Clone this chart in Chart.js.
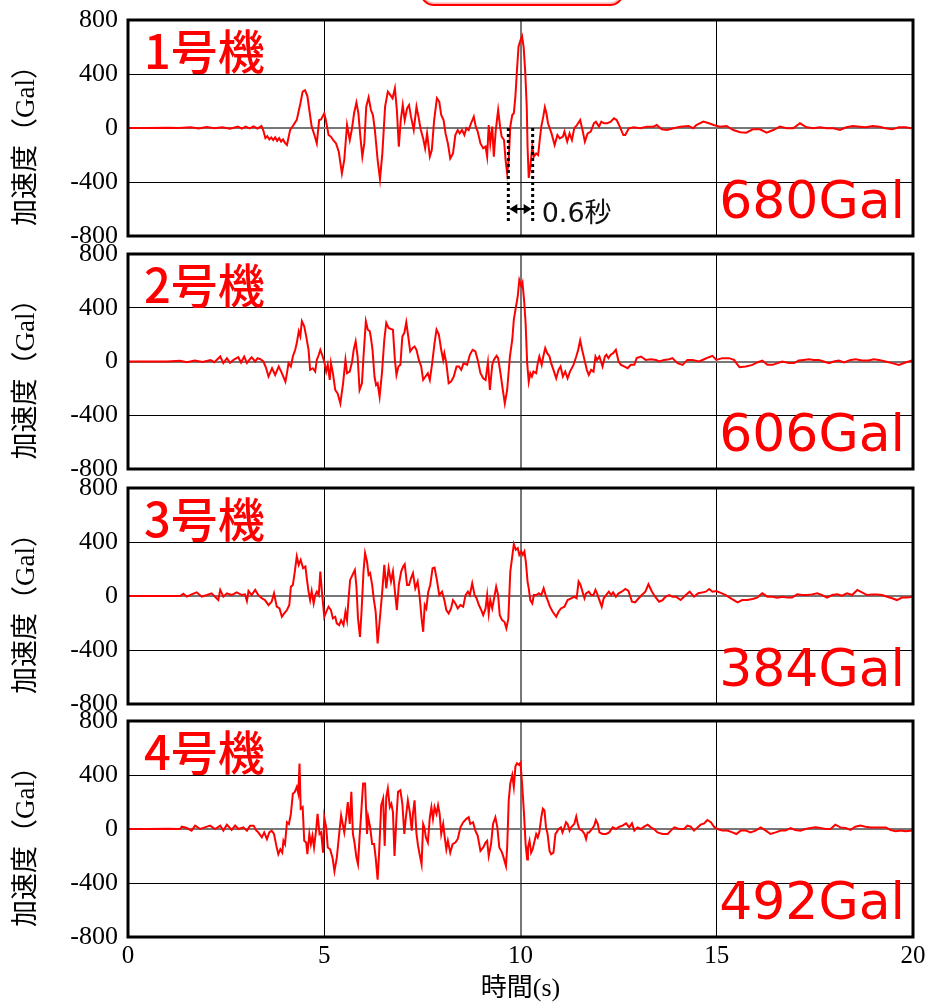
<!DOCTYPE html>
<html>
<head>
<meta charset="utf-8">
<script src="https://cdn.jsdelivr.net/npm/chart.js@4.4.1/dist/chart.umd.min.js"></script>
<style>
html,body{margin:0;padding:0;background:#fff;}
body{width:930px;height:1003px;overflow:hidden;position:relative;}
#topbox{position:absolute;left:420px;top:-38px;width:200px;height:40px;border:2.5px solid #ff0000;border-radius:14px;box-shadow:inset 0 0 0 1.5px #ffb4b4;}
</style>
</head>
<body>
<div id="topbox"></div>
<script>
// ---- data: [time (s), acceleration (Gal)] ----
const unit1 = [[0,0],[0.5,0],[1.0,2],[1.3,0],[1.6,5],[1.8,-3],[2.0,8],[2.2,-2],[2.4,6],[2.6,-5],[2.8,10],[2.9,-5],[3.0,10],[3.1,-3],[3.2,12],[3.3,-5],[3.4,15],[3.45,-20],[3.5,-75],[3.55,-60],[3.6,-85],[3.65,-70],[3.7,-90],[3.75,-70],[3.8,-95],[3.85,-75],[3.9,-100],[3.95,-85],[4.0,-110],[4.05,-125],[4.13,-15],[4.2,15],[4.3,60],[4.39,180],[4.45,270],[4.51,280],[4.57,237],[4.62,133],[4.68,10],[4.75,-52],[4.81,-114],[4.87,59],[4.92,64],[5.0,109],[5.04,59],[5.11,-52],[5.17,-64],[5.24,-94],[5.3,-114],[5.37,-175],[5.45,-336],[5.51,-237],[5.58,22],[5.65,-89],[5.7,-15],[5.76,109],[5.82,188],[5.87,109],[5.92,-64],[5.97,-212],[6.02,-114],[6.07,158],[6.13,227],[6.19,133],[6.24,96],[6.29,-15],[6.36,-237],[6.42,-380],[6.48,-188],[6.55,158],[6.62,269],[6.68,245],[6.74,220],[6.8,294],[6.85,133],[6.9,-138],[6.95,59],[7.0,170],[7.05,59],[7.11,146],[7.16,170],[7.21,84],[7.28,-15],[7.35,158],[7.4,84],[7.46,-15],[7.52,-77],[7.57,-151],[7.62,-40],[7.69,-212],[7.74,-163],[7.8,59],[7.87,220],[7.93,195],[7.98,96],[8.04,59],[8.09,-40],[8.15,-114],[8.21,-225],[8.28,-188],[8.34,-52],[8.4,-15],[8.45,-40],[8.51,-15],[8.57,-52],[8.62,-2],[8.68,-15],[8.74,35],[8.81,84],[8.86,10],[8.91,-27],[8.98,-114],[9.05,-151],[9.11,-138],[9.15,-212],[9.19,22],[9.23,-114],[9.28,10],[9.32,-212],[9.37,-15],[9.43,133],[9.48,10],[9.52,-64],[9.58,-89],[9.62,-237],[9.66,-336],[9.7,-237],[9.74,10],[9.79,96],[9.83,109],[9.87,232],[9.91,430],[9.95,605],[10.0,650],[10.04,680],[10.08,600],[10.12,420],[10.16,150],[10.18,-140],[10.21,-370],[10.25,-287],[10.3,-138],[10.34,-212],[10.4,-188],[10.45,-200],[10.49,-89],[10.53,10],[10.58,84],[10.62,153],[10.66,109],[10.7,35],[10.79,-40],[10.87,-126],[10.94,-52],[11.0,-77],[11.08,-64],[11.12,-27],[11.19,-101],[11.25,-40],[11.31,-89],[11.37,-2],[11.44,22],[11.52,59],[11.58,-15],[11.64,-101],[11.71,-40],[11.79,-27],[11.87,35],[11.92,47],[12.0,10],[12.06,47],[12.13,35],[12.21,35],[12.3,47],[12.38,72],[12.45,59],[12.53,10],[12.62,-52],[12.67,-52],[12.76,-2],[12.88,5],[13.05,-2],[13.22,10],[13.39,10],[13.47,22],[13.6,-10],[13.73,-15],[13.9,-2],[14.07,10],[14.28,15],[14.4,-2],[14.48,22],[14.66,47],[14.8,35],[14.92,22],[15.08,10],[15.25,15],[15.42,-15],[15.6,-32],[15.75,-35],[15.92,-10],[16.1,-10],[16.27,-35],[16.44,-15],[16.61,10],[16.78,-2],[16.95,-2],[17.12,35],[17.29,5],[17.46,-2],[17.63,5],[17.8,-2],[17.97,-2],[18.14,-15],[18.3,5],[18.47,15],[18.64,10],[18.8,5],[18.97,15],[19.14,10],[19.3,-2],[19.47,-10],[19.64,5],[19.81,5],[19.95,-2],[20,5]];

const unit2 = [[0,0],[0.5,0],[1.0,0],[1.33,5],[1.5,-5],[1.7,8],[1.9,-3],[2.1,10],[2.2,-5],[2.35,37],[2.43,-12],[2.52,25],[2.6,-10],[2.69,12],[2.81,32],[2.88,-8],[2.96,37],[3.03,-12],[3.1,15],[3.15,32],[3.24,0],[3.3,25],[3.37,17],[3.45,0],[3.52,-50],[3.58,-112],[3.67,-50],[3.75,-100],[3.84,-37],[3.92,-87],[4.01,-150],[4.05,-87],[4.09,-12],[4.15,-37],[4.2,37],[4.26,87],[4.3,137],[4.35,225],[4.39,187],[4.43,300],[4.49,262],[4.54,187],[4.6,87],[4.64,-62],[4.71,-50],[4.77,-75],[4.81,12],[4.86,50],[4.9,87],[4.96,37],[5.0,0],[5.05,-75],[5.09,-25],[5.14,-137],[5.17,-12],[5.22,-87],[5.28,-212],[5.34,-237],[5.41,-312],[5.48,-162],[5.54,12],[5.58,-87],[5.65,-75],[5.71,0],[5.75,87],[5.8,150],[5.85,37],[5.9,-212],[5.96,-162],[6.0,37],[6.06,300],[6.11,237],[6.16,225],[6.19,175],[6.23,87],[6.28,-112],[6.32,-175],[6.36,-162],[6.41,-262],[6.47,-87],[6.53,162],[6.58,287],[6.64,250],[6.7,242],[6.75,237],[6.8,12],[6.84,-100],[6.89,-37],[6.94,-25],[6.99,187],[7.04,212],[7.09,292],[7.14,187],[7.19,75],[7.25,100],[7.3,112],[7.35,87],[7.41,12],[7.47,-37],[7.52,-137],[7.58,-112],[7.64,-87],[7.69,-137],[7.75,-12],[7.81,137],[7.86,237],[7.92,200],[7.98,87],[8.03,12],[8.06,62],[8.11,-12],[8.17,-162],[8.23,-150],[8.3,-112],[8.37,-37],[8.43,-37],[8.49,-62],[8.55,-12],[8.64,-25],[8.71,50],[8.78,87],[8.85,75],[8.91,12],[8.98,-87],[9.05,-125],[9.11,-137],[9.17,-7],[9.22,-212],[9.28,-25],[9.32,12],[9.39,42],[9.43,25],[9.49,-87],[9.55,-212],[9.6,-312],[9.66,-212],[9.73,37],[9.79,162],[9.83,312],[9.88,400],[9.93,487],[9.97,606],[10.02,562],[10.05,587],[10.09,462],[10.13,287],[10.17,-12],[10.21,-150],[10.25,-87],[10.29,-112],[10.33,-75],[10.4,-87],[10.44,-12],[10.48,37],[10.54,-25],[10.58,37],[10.63,100],[10.68,62],[10.74,37],[10.78,-12],[10.84,-62],[10.91,-125],[10.97,-62],[11.02,-37],[11.08,-112],[11.14,-75],[11.2,-125],[11.26,-75],[11.35,-25],[11.42,37],[11.47,87],[11.52,157],[11.57,87],[11.63,12],[11.69,-62],[11.74,-100],[11.8,-62],[11.86,-75],[11.91,37],[11.95,12],[12.01,37],[12.09,-37],[12.15,37],[12.19,50],[12.24,25],[12.3,50],[12.36,62],[12.43,87],[12.5,0],[12.56,-25],[12.64,-37],[12.73,-50],[12.81,-25],[12.9,-25],[12.96,25],[13.07,37],[13.19,12],[13.32,17],[13.45,12],[13.53,0],[13.66,12],[13.79,17],[13.87,25],[14.0,-12],[14.13,-25],[14.25,12],[14.38,12],[14.55,0],[14.68,17],[14.8,32],[14.89,42],[14.99,12],[15.14,25],[15.31,25],[15.44,12],[15.5,-12],[15.58,-42],[15.74,-37],[15.91,-25],[16.03,-7],[16.16,7],[16.29,-25],[16.42,-25],[16.55,-12],[16.67,0],[16.84,-12],[16.97,-12],[17.09,7],[17.22,12],[17.35,17],[17.47,12],[17.6,12],[17.73,0],[17.86,-12],[17.98,0],[18.11,7],[18.24,-7],[18.41,12],[18.54,17],[18.7,7],[18.87,7],[19.0,17],[19.13,12],[19.3,0],[19.47,-12],[19.64,-25],[19.81,-7],[19.97,7],[20,5]];

const unit3 = [[0,0],[0.5,0],[1.0,0],[1.33,0],[1.41,17],[1.5,-5],[1.62,12],[1.75,27],[1.88,-5],[2.01,7],[2.13,20],[2.3,-30],[2.35,45],[2.43,-5],[2.52,20],[2.64,7],[2.77,27],[2.9,7],[2.98,12],[3.03,-37],[3.07,37],[3.15,7],[3.24,45],[3.32,7],[3.41,-17],[3.49,-30],[3.58,-67],[3.66,-42],[3.72,20],[3.79,-79],[3.86,-92],[3.92,-154],[3.98,-129],[4.05,-104],[4.11,-67],[4.15,69],[4.2,82],[4.25,181],[4.3,293],[4.35,231],[4.4,268],[4.46,206],[4.52,218],[4.56,119],[4.6,32],[4.64,-30],[4.68,37],[4.73,-55],[4.77,7],[4.81,32],[4.86,7],[4.9,181],[4.94,32],[5.0,-154],[5.05,-117],[5.11,-79],[5.17,-104],[5.22,-166],[5.28,-154],[5.32,-203],[5.38,-216],[5.43,-179],[5.49,-216],[5.54,-117],[5.58,-179],[5.62,-17],[5.66,119],[5.72,156],[5.78,193],[5.82,69],[5.86,-166],[5.91,-303],[5.95,-117],[6.0,181],[6.04,317],[6.09,255],[6.13,156],[6.17,169],[6.22,82],[6.26,-17],[6.31,-117],[6.36,-352],[6.41,-191],[6.47,7],[6.53,231],[6.58,57],[6.64,206],[6.7,107],[6.75,181],[6.81,7],[6.85,-104],[6.9,82],[6.96,181],[7.01,218],[7.05,235],[7.11,82],[7.16,82],[7.21,131],[7.26,169],[7.32,57],[7.38,107],[7.43,-5],[7.48,-166],[7.52,-265],[7.56,-67],[7.6,-92],[7.65,32],[7.7,82],[7.76,206],[7.81,211],[7.87,119],[7.93,7],[8.0,32],[8.06,-30],[8.11,-104],[8.17,-129],[8.23,-92],[8.28,-30],[8.34,-55],[8.4,-92],[8.47,-67],[8.54,-79],[8.6,7],[8.66,32],[8.71,7],[8.77,94],[8.83,7],[8.88,-17],[8.94,-67],[9.0,-104],[9.05,-141],[9.11,-92],[9.15,7],[9.19,-129],[9.23,-30],[9.28,-92],[9.32,-30],[9.38,69],[9.43,7],[9.47,-141],[9.53,-179],[9.59,-191],[9.64,-240],[9.69,-166],[9.74,181],[9.79,293],[9.83,384],[9.88,342],[9.93,355],[9.97,305],[10.02,330],[10.06,305],[10.1,330],[10.14,243],[10.18,107],[10.21,57],[10.25,-30],[10.3,-55],[10.34,7],[10.4,7],[10.47,20],[10.53,7],[10.59,57],[10.64,7],[10.69,-30],[10.75,-79],[10.82,-117],[10.91,-154],[10.97,-117],[11.03,-92],[11.12,-79],[11.2,-30],[11.29,-17],[11.37,-5],[11.43,-17],[11.48,107],[11.53,82],[11.58,32],[11.63,-17],[11.67,20],[11.74,32],[11.8,7],[11.86,7],[11.91,45],[11.95,20],[12.01,-30],[12.07,-79],[12.12,-17],[12.18,7],[12.25,32],[12.31,7],[12.36,27],[12.43,-5],[12.5,20],[12.58,32],[12.67,52],[12.75,37],[12.84,-42],[12.92,-47],[13.01,-17],[13.09,7],[13.18,32],[13.26,87],[13.35,32],[13.43,-5],[13.53,-42],[13.62,-30],[13.7,-5],[13.79,7],[13.87,-5],[13.96,-5],[14.08,-30],[14.21,7],[14.31,32],[14.42,-5],[14.53,20],[14.64,27],[14.72,32],[14.81,52],[14.89,32],[14.99,37],[15.13,20],[15.23,7],[15.36,-17],[15.53,-47],[15.65,-30],[15.78,-30],[15.91,-22],[16.03,-12],[16.16,20],[16.29,-5],[16.42,-5],[16.54,-12],[16.67,-5],[16.8,-12],[16.92,-12],[17.05,12],[17.18,7],[17.31,7],[17.43,12],[17.56,20],[17.69,7],[17.81,-12],[17.94,7],[18.07,12],[18.19,2],[18.32,20],[18.45,7],[18.58,45],[18.7,27],[18.83,7],[18.96,12],[19.08,12],[19.21,7],[19.34,-5],[19.47,-17],[19.59,-30],[19.72,-12],[19.85,-12],[20,-5]];

const unit4 = [[0,0],[0.5,0],[1.0,2],[1.33,0],[1.37,17],[1.5,7],[1.62,-12],[1.71,25],[1.84,0],[1.96,12],[2.09,25],[2.22,0],[2.35,25],[2.43,-12],[2.52,32],[2.64,-7],[2.73,25],[2.81,0],[2.94,12],[3.03,-12],[3.11,25],[3.2,25],[3.27,-12],[3.32,-25],[3.41,-62],[3.47,-25],[3.54,-75],[3.6,-25],[3.66,-12],[3.72,-37],[3.78,-125],[3.83,-187],[3.88,-150],[3.93,-175],[3.96,-87],[4.0,-112],[4.05,50],[4.1,37],[4.15,112],[4.2,262],[4.25,275],[4.3,312],[4.34,262],[4.37,485],[4.4,150],[4.45,162],[4.49,-87],[4.54,-100],[4.57,-187],[4.62,-37],[4.66,-112],[4.7,-50],[4.74,-137],[4.8,12],[4.83,112],[4.88,-37],[4.92,-25],[4.97,-175],[5.0,87],[5.05,12],[5.09,-137],[5.15,-150],[5.21,-212],[5.26,-312],[5.32,-212],[5.38,-37],[5.43,100],[5.47,37],[5.51,-25],[5.56,87],[5.6,200],[5.65,37],[5.69,275],[5.73,-37],[5.77,-100],[5.82,-212],[5.86,-262],[5.9,-62],[5.94,112],[5.99,337],[6.04,337],[6.09,-37],[6.12,87],[6.17,12],[6.22,-112],[6.27,-112],[6.31,-212],[6.36,-375],[6.4,-162],[6.45,175],[6.5,225],[6.54,-125],[6.58,237],[6.62,300],[6.67,162],[6.71,187],[6.75,125],[6.79,-200],[6.84,87],[6.88,275],[6.94,287],[6.99,187],[7.04,-37],[7.08,87],[7.13,212],[7.18,125],[7.23,-12],[7.26,112],[7.3,212],[7.35,-37],[7.39,-125],[7.43,-187],[7.48,-262],[7.52,37],[7.55,12],[7.59,-62],[7.64,-100],[7.69,87],[7.73,162],[7.77,75],[7.81,162],[7.86,112],[7.9,175],[7.94,112],[7.98,-37],[8.03,37],[8.07,-62],[8.11,-150],[8.15,-87],[8.21,-175],[8.27,-112],[8.34,-100],[8.4,-75],[8.47,12],[8.54,50],[8.62,75],[8.68,87],[8.72,37],[8.79,50],[8.85,-12],[8.91,-50],[8.98,-162],[9.05,-137],[9.11,-100],[9.15,-87],[9.19,-200],[9.25,-112],[9.3,37],[9.36,87],[9.41,12],[9.46,-137],[9.53,-175],[9.57,-212],[9.63,-275],[9.66,-137],[9.7,212],[9.74,337],[9.79,400],[9.83,312],[9.87,462],[9.91,487],[9.96,475],[10.0,492],[10.04,337],[10.09,112],[10.13,-112],[10.17,-225],[10.19,-137],[10.23,-87],[10.27,-175],[10.31,-150],[10.36,-87],[10.4,-37],[10.44,-62],[10.48,-25],[10.53,87],[10.57,150],[10.61,137],[10.65,12],[10.69,-37],[10.74,-162],[10.78,-187],[10.84,-175],[10.89,-37],[10.92,-25],[10.97,0],[11.03,12],[11.07,-25],[11.12,12],[11.16,50],[11.2,37],[11.25,-12],[11.29,12],[11.33,25],[11.37,37],[11.42,92],[11.46,37],[11.5,0],[11.57,-12],[11.63,-37],[11.67,-75],[11.71,-25],[11.75,-25],[11.82,0],[11.88,25],[11.92,67],[11.97,37],[12.01,-25],[12.09,-37],[12.18,-37],[12.26,-25],[12.35,12],[12.43,0],[12.52,17],[12.6,25],[12.69,42],[12.77,12],[12.84,42],[12.9,-12],[12.98,12],[13.07,0],[13.15,17],[13.24,32],[13.32,12],[13.4,0],[13.49,-25],[13.62,-37],[13.75,-37],[13.83,-12],[13.92,12],[14.04,0],[14.17,0],[14.25,25],[14.34,17],[14.42,-12],[14.51,12],[14.59,32],[14.68,42],[14.76,67],[14.85,50],[14.93,17],[15.02,0],[15.14,-12],[15.27,-12],[15.4,-25],[15.5,-37],[15.61,-12],[15.74,-12],[15.86,-25],[15.99,-12],[16.12,12],[16.25,-12],[16.37,-37],[16.5,-25],[16.63,-12],[16.75,-12],[16.88,7],[17.0,-7],[17.13,-12],[17.26,0],[17.39,7],[17.52,12],[17.64,7],[17.77,0],[17.9,0],[18.02,32],[18.15,12],[18.28,7],[18.41,-7],[18.53,17],[18.66,25],[18.79,17],[18.92,12],[19.05,12],[19.18,12],[19.31,12],[19.43,-7],[19.56,-17],[19.69,-12],[19.81,-17],[20,-12]];

const unitNames = ['1号機', '2号機', '3号機', '4号機'];
const peakLabels = ['680Gal', '606Gal', '384Gal', '492Gal'];
const yTicks = [-800, -400, 0, 400, 800];
const xTicks = [0, 5, 10, 15, 20];
const yTitle = '加速度（Gal）';
const xTitle = '時間(s)';
// 0.6 s marker in unit 1: start/end time, vertical extent and arrow level (Gal)
const spanTimes = [9.69, 10.31];
const spanLevels = [0, -690, -600];
const spanText = '0.6秒';

const series = [unit1, unit2, unit3, unit4];

// ---- layout ----
const PANEL_TOP = [20, 254, 488, 721];
const PANEL_BOTTOM = [236, 469, 704, 937];
const PAGE_H = 1003;

function deco(i) {
  return {
    id: 'deco' + i,
    afterDraw(chart) {
      const {ctx, chartArea: a, scales: {x, y}} = chart;
      ctx.save();
      // frame
      ctx.strokeStyle = '#000';
      ctx.lineWidth = 3;
      ctx.strokeRect(a.left, a.top, a.right - a.left, a.bottom - a.top);
      // y title
      ctx.save();
      ctx.translate(27, (a.top + a.bottom) / 2 + 11);
      ctx.rotate(-Math.PI / 2);
      ctx.fillStyle = '#000';
      ctx.font = '27px "Liberation Serif", "Noto Sans CJK JP"';
      ctx.textAlign = 'center';
      ctx.textBaseline = 'middle';
      ctx.fillText(yTitle, 0, 0);
      ctx.restore();
      // unit name
      ctx.fillStyle = '#ff0000';
      ctx.font = '500 47px "Noto Sans CJK JP"';
      ctx.textAlign = 'left';
      ctx.textBaseline = 'middle';
      ctx.fillText(unitNames[i], a.left + 16, a.top + 31);
      // peak label
      ctx.font = '52px "DejaVu Sans"';
      ctx.textAlign = 'right';
      ctx.fillText(peakLabels[i], a.right - 8, a.bottom - 32);
      // x title
      if (i === 3) {
        ctx.fillStyle = '#000';
        ctx.font = '26px "Liberation Serif", "Noto Sans CJK JP"';
        ctx.textAlign = 'center';
        ctx.fillText(xTitle, (a.left + a.right) / 2, a.bottom + 52);
      }
      // 0.6 s marker
      if (i === 0) {
        const xl = x.getPixelForValue(spanTimes[0]);
        const xr = x.getPixelForValue(spanTimes[1]);
        const yt = y.getPixelForValue(spanLevels[0]);
        const yb = y.getPixelForValue(spanLevels[1]);
        const ya = y.getPixelForValue(spanLevels[2]);
        ctx.strokeStyle = '#000';
        ctx.fillStyle = '#000';
        ctx.lineWidth = 3;
        ctx.setLineDash([3, 3]);
        ctx.beginPath();
        ctx.moveTo(xl, yt); ctx.lineTo(xl, yb);
        ctx.moveTo(xr, yt); ctx.lineTo(xr, yb);
        ctx.stroke();
        ctx.setLineDash([]);
        ctx.lineWidth = 2;
        ctx.beginPath();
        ctx.moveTo(xl + 6, ya); ctx.lineTo(xr - 6, ya);
        ctx.stroke();
        ctx.beginPath();
        ctx.moveTo(xl + 1, ya); ctx.lineTo(xl + 9, ya - 5); ctx.lineTo(xl + 9, ya + 5); ctx.closePath();
        ctx.moveTo(xr - 1, ya); ctx.lineTo(xr - 9, ya - 5); ctx.lineTo(xr - 9, ya + 5); ctx.closePath();
        ctx.fill();
        ctx.fillStyle = '#111';
        ctx.font = '27px "DejaVu Sans", "Noto Sans CJK JP"';
        ctx.textAlign = 'left';
        ctx.textBaseline = 'middle';
        ctx.fillText(spanText, xr + 9, ya + 6);
      }
      ctx.restore();
    }
  };
}

function makePanel(i) {
  const top = PANEL_TOP[i], bottom = PANEL_BOTTOM[i];
  const padTop = 20;
  const extra = i === 3 ? PAGE_H - bottom : 20;
  const h = bottom - top + padTop + extra;
  const cv = document.createElement('canvas');
  cv.width = 930; cv.height = h;
  cv.style.cssText = 'position:absolute;left:0;top:' + (top - padTop) + 'px;width:930px;height:' + h + 'px;';
  document.body.appendChild(cv);
  new Chart(cv, {
    type: 'line',
    data: {
      datasets: [{
        data: series[i].map(p => ({x: p[0], y: p[1]})),
        borderColor: '#ff0000',
        borderWidth: 2,
        pointRadius: 0,
        tension: 0,
        fill: false
      }]
    },
    options: {
      responsive: false,
      animation: false,
      devicePixelRatio: 1,
      layout: {padding: {top: padTop, left: 0, right: 17, bottom: 0}},
      plugins: {legend: {display: false}, tooltip: {enabled: false}},
      scales: {
        x: {
          type: 'linear',
          min: xTicks[0], max: xTicks[xTicks.length - 1],
          afterBuildTicks: s => { s.ticks = xTicks.map(v => ({value: v})); },
          afterFit: s => { s.height = extra; s.paddingLeft = 0; s.paddingRight = 0; },
          border: {display: false},
          grid: {
            drawTicks: false,
            color: c => (c.tick && c.tick.value === 10) ? '#777' : '#000',
            lineWidth: c => (c.tick && c.tick.value === 10) ? 2 : 1
          },
          ticks: {
            display: i === 3,
            padding: 4,
            color: '#000',
            maxRotation: 0,
            autoSkip: false,
            font: {family: '"Liberation Serif"', size: 25}
          }
        },
        y: {
          min: yTicks[0], max: yTicks[yTicks.length - 1],
          afterBuildTicks: s => { s.ticks = yTicks.map(v => ({value: v})); },
          afterFit: s => { s.width = 128; s.paddingTop = 0; s.paddingBottom = 0; },
          border: {display: false},
          grid: {
            drawTicks: false,
            color: c => (c.tick && c.tick.value === 0) ? '#777' : '#000',
            lineWidth: c => (c.tick && c.tick.value === 0) ? 2 : 1
          },
          ticks: {
            padding: 10,
            color: '#000',
            font: {family: '"Liberation Serif"', size: 26}
          }
        }
      }
    },
    plugins: [deco(i)]
  });
}

for (let i = 0; i < 4; i++) makePanel(i);
</script>
</body>
</html>
